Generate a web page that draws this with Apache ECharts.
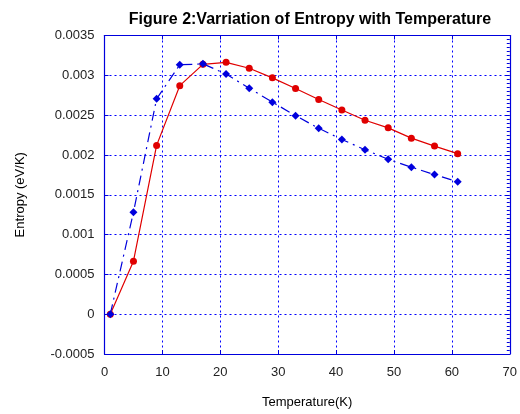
<!DOCTYPE html>
<html><head><meta charset="utf-8">
<script src="https://cdn.jsdelivr.net/npm/echarts@6/dist/echarts.min.js"></script>
<style>html,body{margin:0;padding:0;background:#fff}#c{width:520px;height:414px}</style>
</head><body><div id="c"></div>
<script>
const temperature = [1,5,9,13,17,21,25,29,33,37,41,45,49,53,57,61];
const entropyRed = [0,0.000666,0.00212,0.00287,0.003138,0.003163,0.003089,0.002968,0.002834,0.002697,0.002565,0.002435,0.00234,0.002211,0.002111,0.002016];
const entropyBlue = [0,0.00128,0.002705,0.003132,0.003144,0.003016,0.002837,0.002663,0.002493,0.002335,0.002194,0.002065,0.001945,0.001846,0.001753,0.001662];
const xTicks = [0,10,20,30,40,50,60,70];
const yTicks = [-0.0005,0,0.0005,0.001,0.0015,0.002,0.0025,0.003,0.0035];

const blue = '#0000dd';
const font = 'Liberation Sans, Arial, sans-serif';
const chart = echarts.init(document.getElementById('c'), null, {renderer:'canvas'});
const grid = {show:true,lineStyle:{color:'#0000ff',type:[2,3],width:1}};
chart.setOption({
  animation:false,
  backgroundColor:'#fff',
  title:{text:'Figure 2:Varriation of Entropy with Temperature',left:305,textAlign:'center',top:7,
    textStyle:{fontFamily:font,fontSize:16,fontWeight:'bold',color:'#000'}},
  grid:{left:104.5,top:35.5,right:8.5,bottom:56.5},
  xAxis:[
    {type:'value',min:xTicks[0],max:xTicks[xTicks.length-1],interval:10,
      name:'Temperature(K)',nameLocation:'middle',nameGap:42,
      nameTextStyle:{fontFamily:font,fontSize:13,color:'#000'},
      axisLine:{show:true,onZero:false,lineStyle:{color:blue,width:1.2}},
      axisTick:{show:true,inside:true,length:4,lineStyle:{color:blue}},
      splitLine:grid,
      axisLabel:{color:'#222',fontFamily:font,fontSize:13,margin:12}},
    {type:'value',position:'top',min:0,max:70,interval:10,
      axisLine:{show:true,onZero:false,lineStyle:{color:blue,width:1.2}},
      axisTick:{show:true,inside:true,length:4,lineStyle:{color:blue}},
      axisLabel:{show:false},splitLine:{show:false}}
  ],
  yAxis:[
    {type:'value',min:yTicks[0],max:yTicks[yTicks.length-1],interval:0.0005,
      name:'Entropy (eV/K)',nameLocation:'middle',nameGap:78,nameRotate:90,
      nameTextStyle:{fontFamily:font,fontSize:13,color:'#000'},
      axisLine:{show:true,onZero:false,lineStyle:{color:blue,width:1.2}},
      axisTick:{show:true,inside:true,length:4,lineStyle:{color:blue}},
      splitLine:grid,
      axisLabel:{color:'#222',fontFamily:font,fontSize:13,margin:10,
        formatter:v=>{const r=Math.round(v*1e5)/1e5;return r===0?'0':String(r);}}},
    {type:'value',position:'right',min:-0.0005,max:0.0035,interval:0.0005,
      axisLine:{show:true,onZero:false,lineStyle:{color:blue,width:1.2}},
      axisTick:{show:true,inside:true,length:4,lineStyle:{color:blue}},
      minorTick:{show:true,splitNumber:10,length:3,lineStyle:{color:blue}},
      axisLabel:{show:false},splitLine:{show:false}}
  ],
  series:[
    {type:'line',data:temperature.map((t,i)=>[t,entropyRed[i]]),
      symbol:'circle',symbolSize:7,itemStyle:{color:'#e00000'},
      lineStyle:{color:'#e00000',width:1.2},z:3},
    {type:'line',data:temperature.map((t,i)=>[t,entropyBlue[i]]),
      symbol:'diamond',symbolSize:8,itemStyle:{color:blue},
      lineStyle:{color:blue,width:1.2,type:[10,5,2,5]},z:4}
  ]
});
</script></body></html>
